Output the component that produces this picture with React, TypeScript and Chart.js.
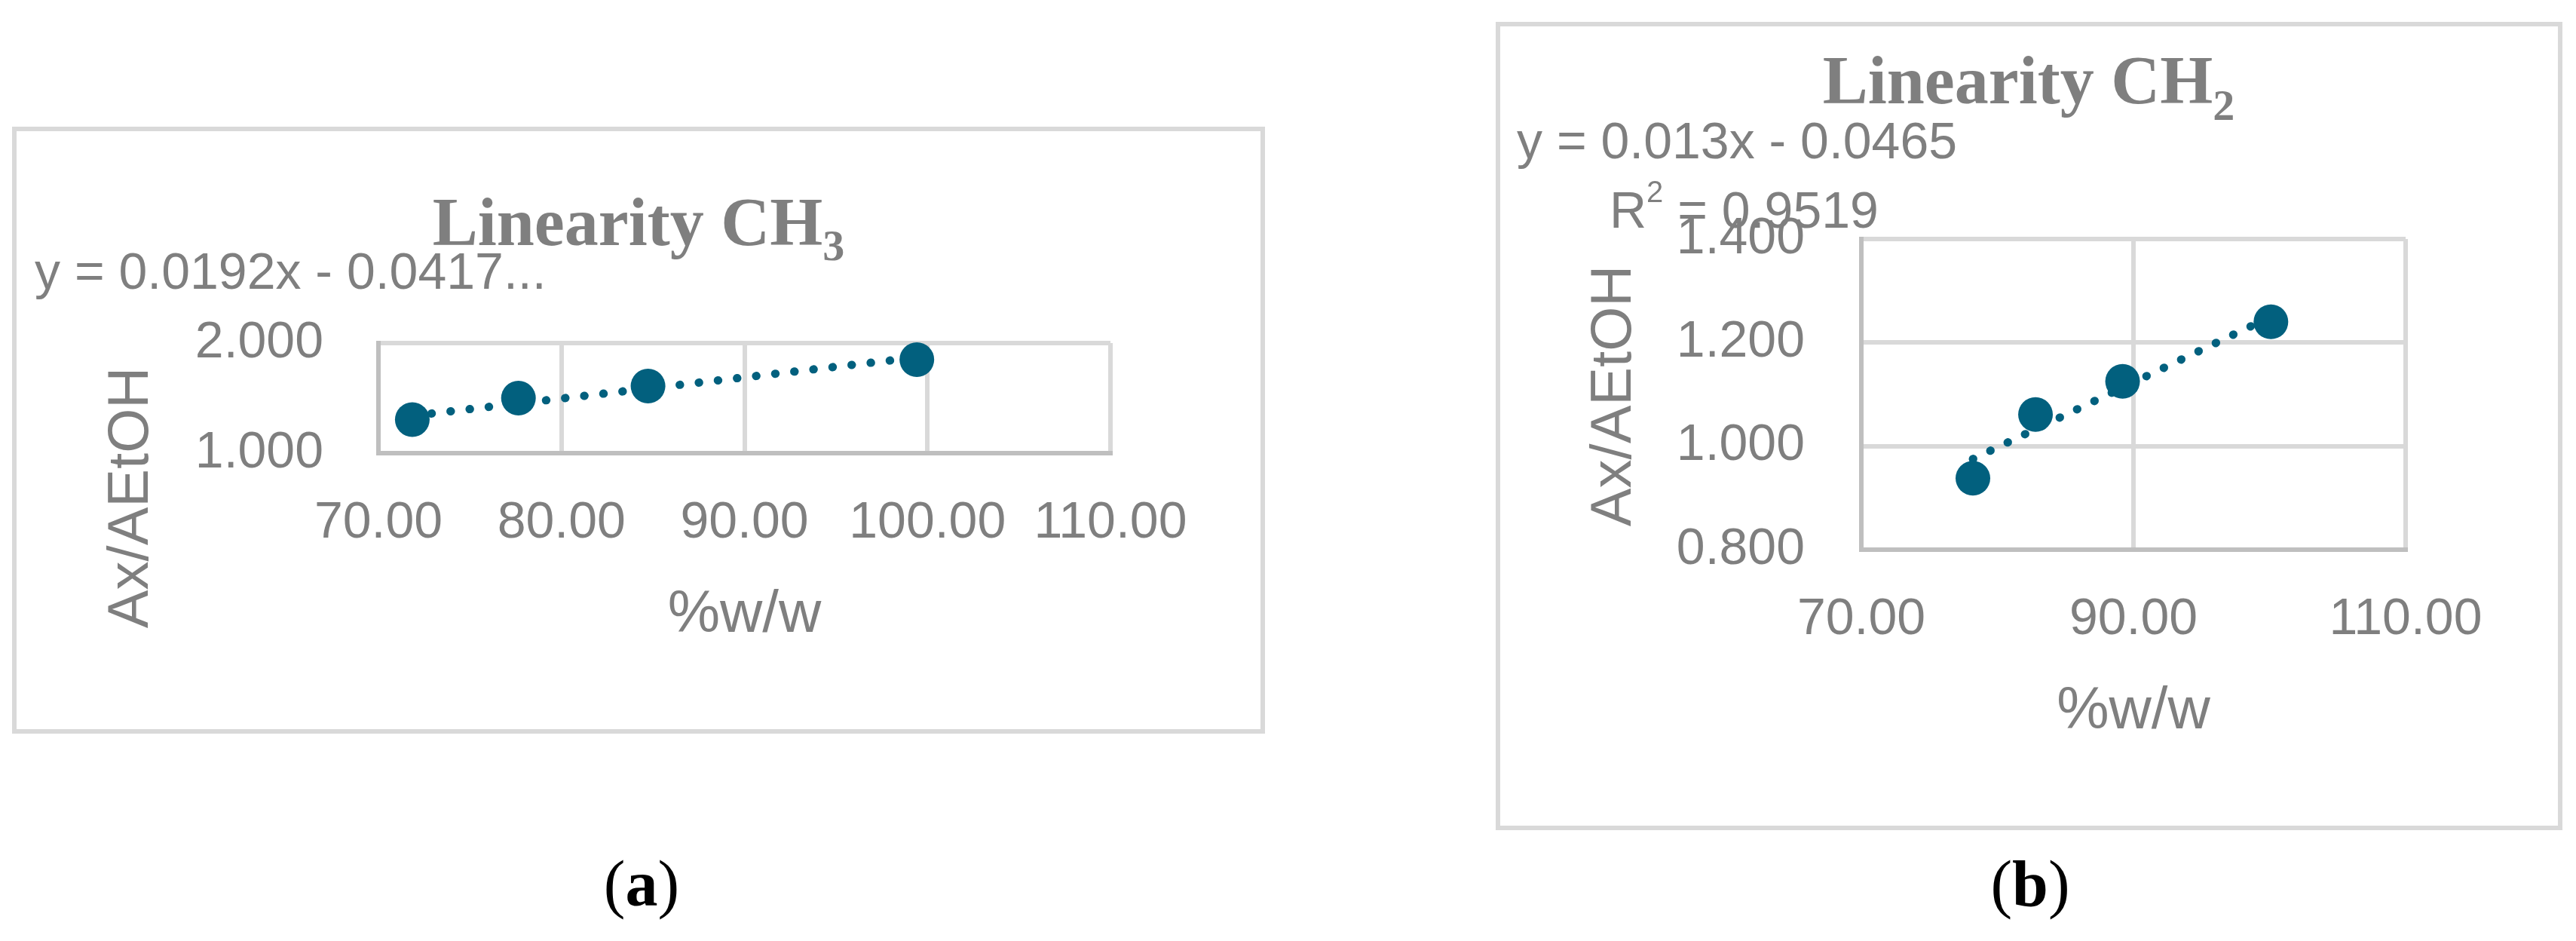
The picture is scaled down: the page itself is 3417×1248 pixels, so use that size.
import React, { useRef, useEffect } from "react";
import { Chart, ChartConfiguration, Plugin, registerables } from "chart.js";

Chart.register(...registerables);

// (a) Linearity CH3
const ch3Pct = [71.85, 77.65, 84.73, 99.42];
const ch3Ratio = [1.305, 1.5, 1.61, 1.85];
const ch3TrendPct = [71.85, 99.42];
const ch3TrendRatio = [1.34, 1.87];
const ch3XTicks = [70, 80, 90, 100, 110];
const ch3YTicks = [1, 2];

// (b) Linearity CH2
const ch2Pct = [78.2, 82.8, 89.2, 100.1];
const ch2Ratio = [0.938, 1.061, 1.125, 1.24];
const ch2TrendPct = [78.2, 100.1];
const ch2TrendRatio = [0.975, 1.25];
const ch2XTicks = [70, 90, 110];
const ch2YTicks = [0.8, 1.0, 1.2, 1.4];

const GRAY = "#7f7f7f";
const BLUE = "#02607e";
const SANS = '"Liberation Sans", Arial, sans-serif';
const SERIF = '"Liberation Serif", "Times New Roman", serif';
const LABEL_FONT = `68px ${SANS}`;
const SUP_FONT = `40px ${SANS}`;
const TITLE_FONT = `bold 90px ${SERIF}`;
const SUB_FONT = `bold 58px ${SERIF}`;

type Run = { text: string; font: string; dy?: number };
type Note = { runs: Run[]; x: number; y: number; align?: "left" | "center"; rotate?: boolean };

// draws chart title, trendline label and y title as canvas text
function makeNotes(items: Note[]): Plugin<"scatter"> {
  return {
    id: "notes",
    afterDraw(chart) {
      const ctx = chart.ctx;
      items.forEach((n) => {
        ctx.save();
        ctx.fillStyle = GRAY;
        if (n.rotate) {
          ctx.translate(n.x, n.y);
          ctx.rotate(-Math.PI / 2);
          ctx.font = n.runs[0].font;
          ctx.textAlign = "center";
          ctx.textBaseline = "middle";
          ctx.fillText(n.runs[0].text, 0, 0);
          ctx.restore();
          return;
        }
        ctx.textAlign = "left";
        ctx.textBaseline = "alphabetic";
        const widths = n.runs.map((r) => {
          ctx.font = r.font;
          return ctx.measureText(r.text).width;
        });
        const total = widths.reduce((a, b) => a + b, 0);
        let x = n.align === "center" ? n.x - total / 2 : n.x;
        n.runs.forEach((r, i) => {
          ctx.font = r.font;
          ctx.fillText(r.text, x, n.y + (r.dy || 0));
          x += widths[i];
        });
        ctx.restore();
      });
    },
  };
}

interface PanelSpec {
  pct: number[];
  ratio: number[];
  trendPct: number[];
  trendRatio: number[];
  xTicks: number[];
  yTicks: number[];
  width: number;
  height: number;
  yWidth: number;
  xHeight: number;
  padTop: number;
  padRight: number;
  yTickPad: number;
  notes: Note[];
}

function buildConfig(p: PanelSpec): ChartConfiguration<"scatter"> {
  const grid = { color: "#d9d9d9", lineWidth: 6, drawTicks: false };
  const border = { color: "#bfbfbf", width: 6 };
  return {
    type: "scatter",
    data: {
      datasets: [
        {
          label: "points",
          data: p.pct.map((x, i) => ({ x, y: p.ratio[i] })),
          pointRadius: 23,
          pointHoverRadius: 23,
          pointBackgroundColor: BLUE,
          pointBorderWidth: 0,
          showLine: false,
          order: 0,
          clip: false as any,
        },
        {
          label: "trend",
          data: p.trendPct.map((x, i) => ({ x, y: p.trendRatio[i] })),
          showLine: true,
          pointRadius: 0,
          borderColor: BLUE,
          borderWidth: 11,
          borderDash: [0.5, 25],
          borderCapStyle: "round",
          order: 1,
          clip: false as any,
        },
      ],
    },
    options: {
      animation: false,
      responsive: false,
      events: [],
      layout: { padding: { left: 0, top: p.padTop, right: p.padRight, bottom: 0 } },
      plugins: { legend: { display: false }, tooltip: { enabled: false }, title: { display: false } },
      scales: {
        x: {
          type: "linear",
          min: p.xTicks[0],
          max: p.xTicks[p.xTicks.length - 1],
          afterBuildTicks: (s) => {
            s.ticks = p.xTicks.map((v) => ({ value: v }));
          },
          afterFit: (s) => {
            s.height = p.xHeight;
          },
          grid,
          border,
          ticks: {
            color: GRAY,
            font: { family: SANS, size: 68 },
            padding: 52,
            maxRotation: 0,
            autoSkip: false,
            callback: (v) => Number(v).toFixed(2),
          },
          title: {
            display: true,
            text: "%w/w",
            color: GRAY,
            font: { family: SANS, size: 78 },
            padding: { top: 0, bottom: 104 },
          },
        },
        y: {
          type: "linear",
          min: p.yTicks[0],
          max: p.yTicks[p.yTicks.length - 1],
          afterBuildTicks: (s) => {
            s.ticks = p.yTicks.map((v) => ({ value: v }));
          },
          afterFit: (s) => {
            s.width = p.yWidth;
          },
          grid,
          border,
          ticks: {
            color: GRAY,
            font: { family: SANS, size: 68 },
            padding: p.yTickPad,
            autoSkip: false,
            callback: (v) => Number(v).toFixed(3),
          },
        },
      },
    },
    plugins: [makeNotes(p.notes)],
  };
}

const ch3Panel: PanelSpec = {
  pct: ch3Pct,
  ratio: ch3Ratio,
  trendPct: ch3TrendPct,
  trendRatio: ch3TrendRatio,
  xTicks: ch3XTicks,
  yTicks: ch3YTicks,
  width: 1650,
  height: 793,
  yWidth: 480,
  xHeight: 366,
  padTop: 281,
  padRight: 199,
  yTickPad: 73,
  notes: [
    {
      runs: [
        { text: "Linearity CH", font: TITLE_FONT },
        { text: "3", font: SUB_FONT, dy: 20 },
      ],
      x: 825,
      y: 151,
      align: "center",
    },
    { runs: [{ text: "y = 0.0192x - 0.0417...", font: LABEL_FONT }], x: 24, y: 209 },
    { runs: [{ text: "Ax/AEtOH", font: `76px ${SANS}` }], x: 153, y: 486, rotate: true },
  ],
};

const ch2Panel: PanelSpec = {
  pct: ch2Pct,
  ratio: ch2Ratio,
  trendPct: ch2TrendPct,
  trendRatio: ch2TrendRatio,
  xTicks: ch2XTicks,
  yTicks: ch2YTicks,
  width: 1403,
  height: 1060,
  yWidth: 479,
  xHeight: 366,
  padTop: 282,
  padRight: 202,
  yTickPad: 75,
  notes: [
    {
      runs: [
        { text: "Linearity CH", font: TITLE_FONT },
        { text: "2", font: SUB_FONT, dy: 22 },
      ],
      x: 701,
      y: 102,
      align: "center",
    },
    { runs: [{ text: "y = 0.013x - 0.0465", font: LABEL_FONT }], x: 22, y: 175 },
    {
      runs: [
        { text: "R", font: LABEL_FONT },
        { text: "2", font: SUP_FONT, dy: -34 },
        { text: " = 0.9519", font: LABEL_FONT },
      ],
      x: 145,
      y: 267,
    },
    { runs: [{ text: "Ax/AEtOH", font: `76px ${SANS}` }], x: 152, y: 490, rotate: true },
  ],
};

const ScatterPanel: React.FC<{ spec: PanelSpec }> = ({ spec }) => {
  const canvasRef = useRef<HTMLCanvasElement | null>(null);
  const chartRef = useRef<Chart<"scatter"> | null>(null);

  useEffect(() => {
    if (!canvasRef.current) return;
    chartRef.current = new Chart(canvasRef.current, buildConfig(spec));
    return () => {
      chartRef.current?.destroy();
      chartRef.current = null;
    };
  }, [spec]);

  return (
    <canvas
      ref={canvasRef}
      width={spec.width}
      height={spec.height}
      style={{ display: "block", width: spec.width, height: spec.height }}
    />
  );
};

const boxStyle = (left: number, top: number, w: number, h: number): React.CSSProperties => ({
  position: "absolute",
  left,
  top,
  width: w,
  height: h,
  border: "6px solid #d9d9d9",
  background: "#fff",
});

const captionStyle = (cx: number): React.CSSProperties => ({
  position: "absolute",
  left: cx - 200,
  width: 400,
  top: 1130,
  textAlign: "center",
  fontFamily: SERIF,
  fontSize: 86,
  lineHeight: "84px",
  color: "#000",
});

export default function App() {
  return (
    <div style={{ position: "absolute", left: 0, top: 0, width: 3417, height: 1248, background: "#fff" }}>
      <div style={boxStyle(16, 168, 1650, 793)}>
        <ScatterPanel spec={ch3Panel} />
      </div>
      <div style={boxStyle(1984, 29, 1403, 1060)}>
        <ScatterPanel spec={ch2Panel} />
      </div>
      <div style={captionStyle(851)}>
        (<b>a</b>)
      </div>
      <div style={captionStyle(2693)}>
        (<b>b</b>)
      </div>
    </div>
  );
}
